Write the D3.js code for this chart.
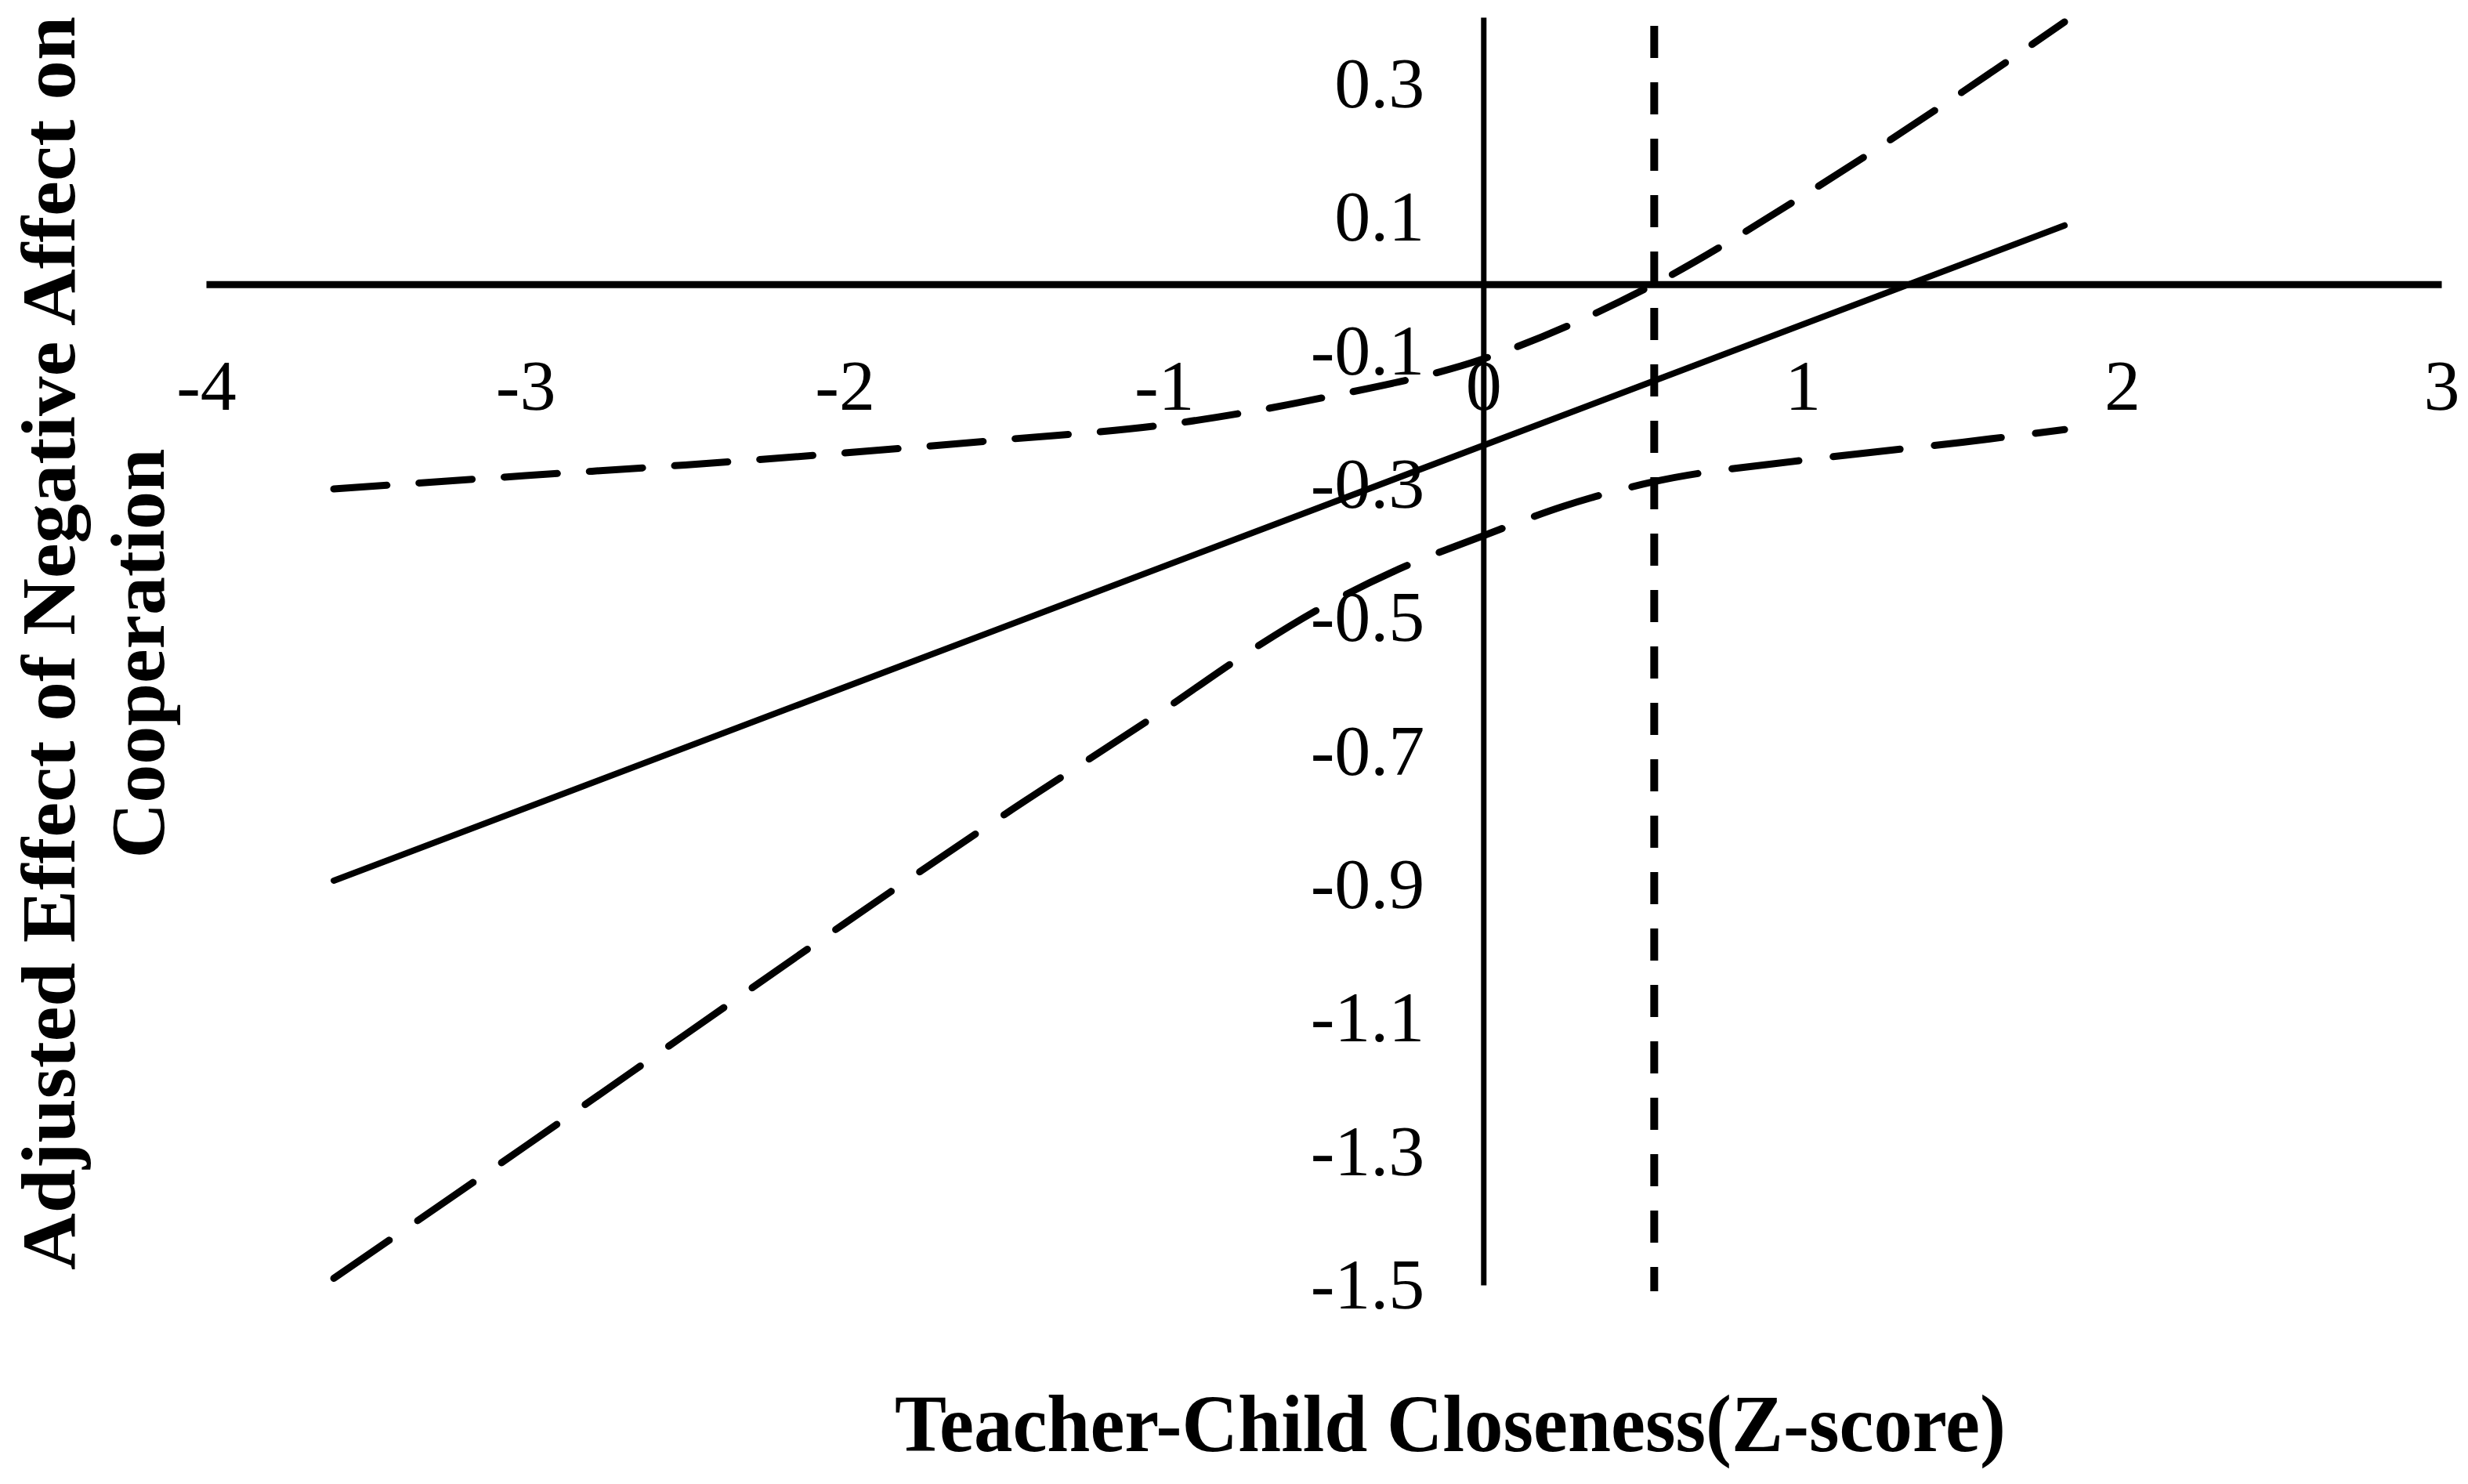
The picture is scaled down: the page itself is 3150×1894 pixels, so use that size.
<!DOCTYPE html>
<html>
<head>
<meta charset="utf-8">
<script src="https://cdn.jsdelivr.net/npm/d3@7"></script>
<style>
  body { margin: 0; background: #fff; }
  text { font-family: "Liberation Serif", "Times New Roman", serif; fill: #000; }
</style>
</head>
<body>
<svg id="chart" width="3150" height="1894"></svg>
<script>
// tick values and labels
var xTicks = [-4, -3, -2, -1, 0, 1, 2, 3];
var xTickLabels = ["-4", "-3", "-2", "-1", "0", "1", "2", "3"];
var yTicks = [0.3, 0.1, -0.1, -0.3, -0.5, -0.7, -0.9, -1.1, -1.3, -1.5];
var yTickLabels = ["0.3", "0.1", "-0.1", "-0.3", "-0.5", "-0.7", "-0.9", "-1.1", "-1.3", "-1.5"];

// conditional effect (solid line)
var effectX = [-3.6, 1.82];
var effectY = [-0.894, 0.088];

// upper confidence band (dashed)
var upperX = [-3.6, -3, -2.5, -2, -1.5, -1, -0.5, 0, 0.535, 1, 1.5, 1.82];
var upperY = [-0.307, -0.287, -0.271, -0.253, -0.233, -0.211, -0.17, -0.112, 0.0, 0.132, 0.288, 0.393];

// lower confidence band (dashed)
var lowerX = [-3.6, -3, -2.5, -2, -1.5, -1, -0.75, -0.5, -0.25, 0, 0.25, 0.535, 1, 1.5, 1.82];
var lowerY = [-1.49, -1.292, -1.125, -0.958, -0.795, -0.638, -0.556, -0.483, -0.424, -0.377, -0.333, -0.296, -0.264, -0.237, -0.218];

// Johnson-Neyman point (vertical short-dashed line)
var jnX = 0.535;

var svg = d3.select("#chart");

var x = d3.scaleLinear().domain([-4, 3]).range([263, 3116]);
var y = d3.scaleLinear().domain([-1.5, 0.4]).range([1640, 22]);

// zip helper
function pts(xs, ys) {
  return xs.map(function(v, i) { return [v, ys[i]]; });
}

var line = d3.line()
  .x(function(d) { return x(d[0]); })
  .y(function(d) { return y(d[1]); })
  .curve(d3.curveMonotoneX);

// horizontal axis through y = 0
var xAxis = svg.append("g")
  .attr("transform", "translate(0," + y(0) + ")")
  .call(d3.axisBottom(x)
    .tickValues(xTicks)
    .tickFormat(function(d, i) { return xTickLabels[i]; })
    .tickSize(0)
    .tickSizeOuter(0));
xAxis.select(".domain").attr("stroke", "#000").attr("stroke-width", 9);
xAxis.selectAll("text")
  .attr("y", 160)
  .attr("dy", null)
  .style("font-size", "92px")
  .style("font-family", "Liberation Serif, serif");

// vertical axis through x = 0
var yAxis = svg.append("g")
  .attr("transform", "translate(" + x(0) + ",0)")
  .call(d3.axisLeft(y)
    .tickValues(yTicks)
    .tickFormat(function(d, i) { return yTickLabels[i]; })
    .tickSize(0)
    .tickSizeOuter(0)
    .tickPadding(75));
yAxis.select(".domain").attr("stroke", "#000").attr("stroke-width", 7);
yAxis.selectAll("text")
  .style("font-size", "92px")
  .style("font-family", "Liberation Serif, serif");

// Johnson-Neyman line
svg.append("line")
  .attr("x1", x(jnX)).attr("x2", x(jnX))
  .attr("y1", y(0.4) + 11).attr("y2", y(-1.5) + 8)
  .attr("stroke", "#000")
  .attr("stroke-width", 10)
  .attr("stroke-dasharray", "41 31");

// confidence bands
svg.append("path")
  .datum(pts(upperX, upperY))
  .attr("d", line)
  .attr("fill", "none")
  .attr("stroke", "#000")
  .attr("stroke-width", 9)
  .attr("stroke-linecap", "round")
  .attr("stroke-dasharray", "68 41");

svg.append("path")
  .datum(pts(lowerX, lowerY))
  .attr("d", line)
  .attr("fill", "none")
  .attr("stroke", "#000")
  .attr("stroke-width", 9)
  .attr("stroke-linecap", "round")
  .attr("stroke-dasharray", "86 44");

// effect line
svg.append("path")
  .datum(pts(effectX, effectY))
  .attr("d", line)
  .attr("fill", "none")
  .attr("stroke", "#000")
  .attr("stroke-width", 8)
  .attr("stroke-linecap", "round");

// axis titles
svg.append("text")
  .attr("x", 1851)
  .attr("y", 1852)
  .attr("text-anchor", "middle")
  .attr("textLength", 1418)
  .attr("lengthAdjust", "spacingAndGlyphs")
  .style("font-size", "103px")
  .style("font-weight", "bold")
  .text("Teacher-Child Closeness(Z-score)");

svg.append("text")
  .attr("transform", "translate(95,821) rotate(-90)")
  .attr("text-anchor", "middle")
  .attr("textLength", 1600)
  .attr("lengthAdjust", "spacingAndGlyphs")
  .style("font-size", "98px")
  .style("font-weight", "bold")
  .text("Adjusted Effect of Negative Affect on");

svg.append("text")
  .attr("transform", "translate(209,834) rotate(-90)")
  .attr("text-anchor", "middle")
  .attr("textLength", 523)
  .attr("lengthAdjust", "spacingAndGlyphs")
  .style("font-size", "98px")
  .style("font-weight", "bold")
  .text("Cooperation");
</script>
</body>
</html>
